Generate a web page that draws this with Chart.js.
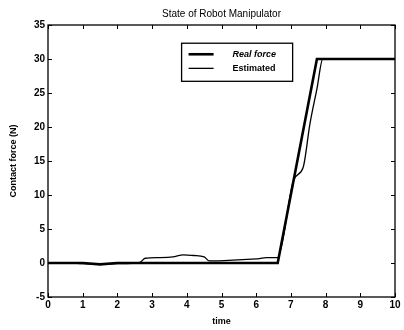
<!DOCTYPE html>
<html>
<head>
<meta charset="utf-8">
<script src="https://cdn.jsdelivr.net/npm/chart.js@4/dist/chart.umd.min.js"></script>
<style>
html,body{margin:0;padding:0;background:#fff;}
#wrap{width:404px;height:330px;}
</style>
</head>
<body>
<div id="wrap"><canvas id="c" width="404" height="330"></canvas></div>
<script>
const chartTitle = "State of Robot Manipulator";
const xTitle = "time";
const yTitle = "Contact force (N)";
const seriesNames = ["Real force", "Estimated"];

const realTime  = [0, 1, 1.5, 2, 3, 4, 5, 6, 6.62, 7.75, 8, 9, 10];
const realForce = [0, 0, -0.2, 0, 0, 0, 0, 0, 0, 30, 30, 30, 30];

const estTime  = [0, 0.5, 1, 1.5, 2, 2.5, 2.65, 2.8, 3.2, 3.6, 3.9, 4.2, 4.5, 4.65, 4.8, 5.2, 5.6, 6.0, 6.3, 6.62, 6.75, 7.08, 7.35, 7.55, 7.75, 7.92, 8.2, 9, 10];
const estForce = [0, 0, -0.1, -0.2, -0.1, 0, 0.1, 0.7, 0.8, 0.9, 1.2, 1.1, 0.9, 0.3, 0.3, 0.4, 0.5, 0.6, 0.8, 0.8, 3.0, 12.2, 14.0, 20.5, 25.6, 30, 30, 30, 30];

const xMin = 0, xMax = 10, xStep = 1;
const yMin = -5, yMax = 35, yStep = 5;

function pts(xs, ys){ return xs.map((x,i)=>({x:x, y:ys[i]})); }

const FONT = "'Liberation Sans', Arial, sans-serif";

const framePlugin = {
  id: 'frame',
  afterDatasetsDraw(chart){
    const ctx = chart.ctx, a = chart.chartArea;
    const xs = chart.scales.x, ys = chart.scales.y;
    ctx.save();
    ctx.strokeStyle = '#000';
    ctx.lineWidth = 1.3;
    ctx.strokeRect(a.left, a.top, a.right - a.left, a.bottom - a.top);
    const L = 4;
    ctx.lineWidth = 1;
    ctx.beginPath();
    xs.ticks.forEach(t => {
      const px = Math.round(xs.getPixelForValue(t.value)) + 0.5;
      ctx.moveTo(px, a.bottom); ctx.lineTo(px, a.bottom - L);
      ctx.moveTo(px, a.top); ctx.lineTo(px, a.top + L);
    });
    ys.ticks.forEach(t => {
      const py = Math.round(ys.getPixelForValue(t.value)) + 0.5;
      ctx.moveTo(a.left, py); ctx.lineTo(a.left + L, py);
      ctx.moveTo(a.right, py); ctx.lineTo(a.right - L, py);
    });
    ctx.stroke();

    // title centred over the plot
    ctx.fillStyle = '#000';
    ctx.font = '10px ' + FONT;
    ctx.textAlign = 'center';
    ctx.textBaseline = 'middle';
    ctx.fillText(chartTitle, (a.left + a.right) / 2, a.top - 11);

    // legend box inside the plot
    const w = a.right - a.left, h = a.bottom - a.top;
    const bx = a.left + w * 0.385, by = a.top + h * 0.067;
    const bw = w * 0.32, bh = h * 0.14;
    ctx.fillStyle = '#fff';
    ctx.fillRect(bx, by, bw, bh);
    ctx.lineWidth = 1.3;
    ctx.strokeRect(bx, by, bw, bh);
    const ds = chart.data.datasets;
    const rows = [by + bh * 0.29, by + bh * 0.66];
    ds.forEach((d, i) => {
      ctx.beginPath();
      ctx.lineWidth = d.borderWidth;
      ctx.strokeStyle = '#000';
      ctx.moveTo(bx + 7, rows[i]); ctx.lineTo(bx + 32, rows[i]);
      ctx.stroke();
      ctx.fillStyle = '#000';
      ctx.font = (i === 0 ? 'italic bold ' : 'bold ') + '9px ' + FONT;
      ctx.textBaseline = 'middle';
      ctx.textAlign = 'left';
      ctx.fillText(d.label, bx + 51, rows[i]);
    });
    ctx.restore();
  }
};

new Chart(document.getElementById('c'), {
  type: 'line',
  data: {
    datasets: [
      { label: seriesNames[0], data: pts(realTime, realForce), borderColor: '#000', borderWidth: 2.6, pointRadius: 0, tension: 0, fill: false },
      { label: seriesNames[1], data: pts(estTime, estForce), borderColor: '#000', borderWidth: 1.3, pointRadius: 0, cubicInterpolationMode: 'monotone', fill: false }
    ]
  },
  options: {
    responsive: false,
    animation: false,
    layout: { padding: { left: 0, right: 9, top: 25, bottom: 0 } },
    plugins: {
      legend: { display: false },
      tooltip: { enabled: false },
      title: { display: false }
    },
    scales: {
      x: {
        type: 'linear', min: xMin, max: xMax,
        ticks: { stepSize: xStep, color: '#000', font: { family: FONT, size: 10, weight: 'bold' }, padding: 2, maxRotation: 0 },
        grid: { display: false, drawTicks: false },
        border: { display: false },
        title: { display: true, text: xTitle, color: '#000', font: { family: FONT, size: 9, weight: 'bold' }, padding: { top: 0, bottom: 3 } },
        afterFit(s){ s.height = 33; }
      },
      y: {
        type: 'linear', min: yMin, max: yMax,
        ticks: { stepSize: yStep, color: '#000', font: { family: FONT, size: 10, weight: 'bold' }, padding: 3 },
        grid: { display: false, drawTicks: false },
        border: { display: false },
        title: { display: true, text: yTitle, color: '#000', font: { family: FONT, size: 9, weight: 'bold' }, padding: { top: 8, bottom: 0 } },
        afterFit(s){ s.width = 48; }
      }
    }
  },
  plugins: [framePlugin]
});
</script>
</body>
</html>
